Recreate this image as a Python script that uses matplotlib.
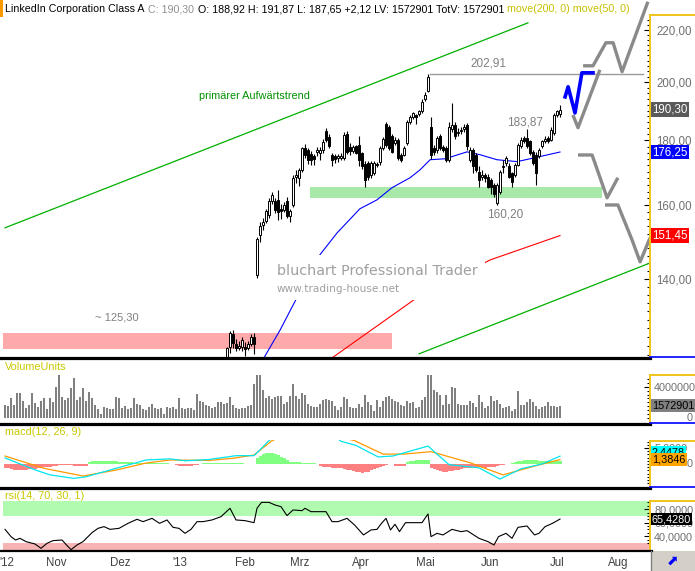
import matplotlib
matplotlib.use('Agg')
import matplotlib.pyplot as plt
from matplotlib.lines import Line2D
from matplotlib.patches import Rectangle
from matplotlib.ticker import FixedLocator, FuncFormatter, NullFormatter
import numpy as np

# ---------------- data ----------------
n_days = 186                      # trading days, Oct 2012 .. 9 Jul 2013
candle_start = 74                 # first candle visible inside the price window

opens = [121.0, 123.7, 126.7, 124.4, 123.6, 123.7, 123.8, 123.5, 124.4, 126.0,
         141.0, 151.6, 154.5, 155.5, 157.2, 161.3, 161.3, 161.6, 159.0, 158.7,
         161.3, 156.9, 160.0, 168.3, 168.2, 170.6, 177.4, 176.9, 175.5, 174.9,
         176.4, 175.9, 176.9, 183.0, 181.0, 175.4, 174.9, 174.3, 174.3, 174.3,
         182.1, 177.8, 176.5, 178.1, 178.6, 175.9, 172.5, 172.8, 169.0, 169.6,
         172.5, 173.0, 177.6, 185.6, 184.5, 181.3, 179.1, 180.2, 175.4, 175.4,
         179.1, 186.2, 187.7, 188.5, 188.9, 189.7, 193.9, 197.0, 184.3, 177.6,
         176.9, 181.3, 177.9, 177.6, 173.8, 183.9, 185.1, 182.4, 183.0, 183.9,
         185.1, 173.8, 176.9, 175.4, 170.1, 168.5, 169.0, 168.5, 167.6, 166.0,
         160.8, 163.9, 171.4, 172.8, 171.7, 169.6, 169.0, 172.2, 178.1, 180.8,
         180.8, 179.7, 176.4, 175.4, 174.9, 178.1, 179.9, 180.8, 180.2, 182.4,
         188.5, 188.92]
highs = [123.8, 127.3, 127.5, 125.5, 125.0, 126.0, 124.8, 125.0, 126.7, 126.8,
         151.1, 155.2, 156.5, 159.0, 162.0, 163.8, 162.2, 164.6, 160.5, 161.0,
         162.3, 159.0, 169.0, 170.5, 171.2, 177.8, 178.9, 177.5, 176.5, 175.5,
         177.8, 178.0, 180.5, 184.2, 182.0, 175.9, 175.6, 175.7, 175.9, 182.9,
         183.2, 179.3, 178.4, 178.6, 181.3, 176.4, 173.3, 173.5, 173.5, 173.3,
         173.0, 178.1, 181.0, 186.2, 185.1, 182.0, 181.0, 180.8, 176.0, 178.1,
         186.8, 188.5, 189.6, 189.0, 190.3, 194.0, 196.5, 202.91, 187.9, 178.6,
         181.5, 182.0, 178.6, 178.1, 186.0, 192.6, 186.0, 184.0, 184.5, 185.5,
         185.8, 177.8, 177.5, 176.0, 171.7, 170.5, 169.6, 169.5, 168.0, 166.5,
         166.5, 170.6, 173.8, 175.0, 172.8, 170.1, 172.8, 179.1, 181.0, 181.5,
         183.87, 180.2, 177.0, 176.4, 177.6, 180.2, 181.3, 181.3, 184.5, 189.1,
         190.3, 191.87]
lows = [120.5, 122.3, 123.6, 122.9, 123.0, 122.8, 121.8, 123.0, 124.0, 122.1,
        140.3, 149.8, 153.0, 155.0, 156.5, 160.5, 157.8, 155.8, 156.0, 158.0,
        156.3, 155.3, 159.5, 166.5, 165.8, 170.0, 174.5, 172.5, 172.0, 172.3,
        175.0, 173.8, 176.0, 179.5, 177.5, 171.7, 172.8, 173.2, 173.8, 173.8,
        175.6, 175.4, 176.0, 175.5, 171.7, 171.0, 165.5, 167.5, 168.0, 169.0,
        171.5, 172.2, 177.0, 178.0, 177.0, 175.9, 178.5, 173.8, 173.0, 174.9,
        178.6, 185.6, 187.0, 185.4, 188.3, 189.1, 193.3, 196.5, 174.0, 175.4,
        176.0, 177.0, 176.4, 173.0, 173.2, 182.9, 180.5, 181.3, 182.0, 182.8,
        177.0, 173.0, 169.6, 170.0, 165.5, 167.5, 167.0, 165.0, 163.4, 162.4,
        160.2, 163.4, 169.6, 171.7, 168.0, 165.5, 168.5, 171.7, 177.5, 179.1,
        177.6, 175.4, 172.0, 166.0, 174.3, 177.6, 179.1, 179.1, 179.7, 181.8,
        187.9, 187.65]
closes = [123.6, 126.9, 124.6, 123.4, 123.9, 125.2, 123.3, 124.4, 125.9, 124.4,
          150.6, 154.2, 155.3, 158.4, 161.4, 162.9, 158.7, 158.2, 158.3, 160.2,
          156.9, 158.3, 168.1, 169.0, 170.6, 177.4, 175.4, 173.8, 173.8, 173.9,
          176.9, 176.9, 179.5, 180.2, 178.2, 173.8, 174.0, 174.9, 175.1, 181.8,
          176.2, 176.5, 177.9, 176.0, 173.8, 171.7, 167.6, 168.5, 172.8, 172.8,
          172.2, 177.6, 180.4, 178.6, 177.6, 176.4, 180.2, 174.3, 173.8, 177.6,
          186.2, 187.9, 189.1, 187.9, 189.7, 193.0, 195.5, 202.1, 175.4, 176.4,
          180.8, 177.6, 177.0, 173.8, 184.5, 185.1, 181.3, 182.9, 183.5, 184.5,
          178.1, 176.9, 171.7, 170.6, 167.6, 169.0, 168.0, 165.5, 165.5, 163.4,
          166.0, 170.1, 171.9, 174.3, 168.5, 167.0, 172.2, 178.6, 180.2, 179.7,
          178.1, 175.9, 172.8, 169.6, 176.9, 179.7, 180.4, 179.7, 183.5, 188.5,
          189.7, 190.30]

# moving averages (vertices)
ma50_day = [80, 86.3, 91.7, 97.3, 105, 110.7, 118.3, 124, 129, 135, 138.3, 141.7,
            146.7, 154, 158.3, 164, 170.7, 178.3, 185]
ma50_val = [115.0, 121.3, 127.6, 135.3, 146.3, 152.2, 159.0, 161.6, 165.2, 168.2,
            170.6, 173.8, 174.1, 176.3, 175.4, 173.8, 173.2, 174.8, 176.25]
ma200_day = [105, 109, 137.3, 161.7, 185]
ma200_val = [119.5, 121.3, 135.3, 144.9, 151.45]

# trend channel
trend_up_day = [0, 174.3]
trend_up_val = [153.6, 222.8]
trend_lo_day = [138, 215]
trend_lo_val = [122.2, 144.1]

# volume in millions
vol_mio = [1.71, 1.50, 2.61, 1.71, 3.25, 3.25, 2.22, 1.32, 1.71, 3.25,
           1.97, 1.45, 2.22, 2.61, 1.20, 2.61, 2.09, 4.02, 5.56, 2.74,
           2.35, 2.61, 3.89, 5.17, 2.35, 2.74, 3.89, 2.22, 3.38, 2.61,
           1.71, 1.20, 0.56, 1.45, 1.32, 1.20, 1.20, 2.74, 2.61, 1.32,
           1.58, 1.20, 1.32, 2.61, 1.84, 1.71, 1.20, 1.07, 1.45, 1.84,
           1.32, 1.20, 1.32, 0.56, 1.45, 1.32, 1.45, 1.20, 2.61, 1.32,
           1.20, 1.32, 1.32, 1.07, 3.12, 2.22, 2.09, 1.71, 1.58, 1.32,
           1.45, 2.09, 2.09, 1.84, 1.97, 2.74, 1.71, 1.32, 1.20, 1.32,
           1.32, 1.58, 1.71, 4.40, 5.56, 5.56, 3.63, 2.61, 2.86, 2.48,
           2.74, 2.86, 2.86, 1.84, 2.09,
           2.86, 4.40, 2.86, 2.48, 3.25, 2.99, 1.84, 1.58, 1.45, 1.45,
           1.84, 2.35, 2.48, 2.35, 2.22, 1.58, 1.07, 1.45, 2.74, 2.48,
           1.45, 1.32, 1.32, 1.84, 1.45, 2.99, 2.09, 1.71, 0.94, 2.35,
           1.45, 2.22, 2.74, 2.86, 2.48, 2.22, 2.09, 1.71, 1.58, 2.22,
           1.97, 2.09, 1.32, 1.45, 2.35, 2.74, 5.56, 5.56, 3.63, 3.38,
           2.99, 1.71, 2.99, 1.84, 4.02, 3.89, 1.84, 1.71, 1.71, 1.71,
           2.22, 1.97, 1.45, 2.99, 2.09, 1.32, 1.58, 2.86, 2.22, 2.35,
           1.84, 1.32, 1.45, 1.58, 0.94, 1.20, 3.50, 1.71, 1.71, 2.09,
           2.48, 2.09, 1.58, 1.20, 1.45, 1.58, 2.09, 1.58, 1.58, 1.45,
           1.572901]

# macd(12,26,9)
macd_day = [0, 5.6, 10.5, 15, 23, 27, 37, 47, 55, 60, 68, 77, 83, 85.5, 88,
            92, 100, 108, 112, 117, 124.4, 129.3, 141, 148, 158, 165, 172, 179, 185]
macd_val = [1.9, -0.2, -2.0, -3.4, -4.5, -4.0, -1.35, 1.25, 1.6, 1.0, 1.4, 2.6, 2.6, 4.9, 7.3,
            10.0, 12.0, 10.0, 7.1, 5.8, 2.2, 2.5, 5.6, -0.2, -1.2, -4.7, -1.5, 0.0, 2.45]
sig_day = [0, 13, 26, 37, 47, 55, 68, 76, 83, 89, 95, 105, 116.5, 126, 133, 142,
           155, 166, 176, 185]
sig_val = [2.5, -1.35, -3.75, -1.9, 0.3, 1.25, 1.1, 1.8, 2.8, 7.3, 9.5, 10.0, 7.3, 3.1,
           3.1, 3.85, 0.4, -3.4, -0.8, 1.3846]
hist = [-1.2, -1.4, -1.6, -1.8, -1.9,
        -1.9, -1.9, -1.8, -1.7, -1.6, -1.5,
        -1.3, -1.2, -1.0, -0.9, -0.8, -0.7,
        -0.5, -0.4, -0.4, -0.3, -0.3, -0.3,
        -0.6, -0.7, -0.7, -0.6, -0.5,
        0.6, 0.9, 1.0, 1.0, 1.0, 1.0, 0.9, 0.9,
        0.8, 0.8, 0.7, 0.7, 0.6, 0.6, 0.5,
        0.4, 0.4, 0.3, 0.3, 0.3, 0.3, 0.2, 0.2, 0.3, 0.3, 0.3, 0.2, 0.1, 0.05,
        -0.3, -0.5, -0.6, -0.6, -0.5, -0.5, -0.4, -0.2,
        0.05,
        0.3, 0.3, 0.4, 0.4, 0.4, 0.4, 0.4, 0.4, 0.4, 0.4, 0.4, 0.3, 0.3, 0.2,
        0.02, 0.02, 0.02, 0.02,
        2.0, 2.4, 3.0, 3.3, 3.4, 3.4, 3.2, 2.8, 2.3, 1.8, 1.2,
        0.6, 0.5, 0.5, 0.5, 0.4, 0.4, 0.4, 0.4, 0.3,
        0.0,
        -0.6, -0.8, -0.9, -1.0, -1.1, -1.2, -1.3, -1.4, -1.6, -1.8, -2.0, -2.2,
        -2.4, -2.6, -2.7, -2.6, -2.4, -2.0, -1.6, -1.2, -0.9, -0.6,
        -0.3,
        0.0, 0.0,
        -0.6, -0.7, -0.7, -0.6,
        0.7, 0.9, 1.0, 1.1, 1.1, 1.2, 1.3, 1.4,
        -1.2, -1.6, -2.0, -2.3, -2.4, -2.4, -2.3, -2.2, -2.0, -1.8, -1.6,
        -1.4, -1.2, -1.1, -1.0, -1.0, -1.0, -1.1, -1.1, -1.0, -0.9, -0.8, -0.6, -0.4, -0.2,
        0.0, 0.1, 0.2,
        0.5, 0.8, 1.0, 1.2, 1.3, 1.3, 1.2, 1.1, 1.0, 0.9, 0.8, 0.8, 0.9, 1.0, 1.0, 1.06]

# rsi(14)
rsi_day = [0, 2, 3.5, 5, 7, 10, 12, 14, 16, 19, 20.5, 22, 24, 26, 29, 31, 33, 35, 38,
           41, 44, 46, 49, 51.5, 54, 56, 58, 60, 62, 64, 66, 69, 72, 75, 77, 80, 83,
           84, 85.5, 88, 90, 92, 94, 96, 99, 100, 102, 105, 107, 109, 111, 114, 116.5,
           119.5, 122, 124, 125.5, 127, 128.5, 130, 131.5, 133.5, 136, 139, 141, 142,
           144, 146, 149, 152, 154, 158, 161, 163, 164.5, 167, 169, 171, 174, 176.5,
           178, 180, 182.5, 185]
rsi_val = [50.2, 39.4, 34.4, 36.9, 32.0, 28.5, 22.1, 29.5, 33.5, 34.4, 27.0, 20.0, 27.0,
           32.0, 45.3, 51.7, 54.2, 50.2, 51.7, 59.1, 65.1, 61.6, 66.5, 59.1, 64.1, 53.2,
           51.7, 44.3, 50.2, 61.6, 61.6, 64.1, 69.0, 81.4, 64.1, 63.1, 60.1, 81.4, 90.2,
           90.2, 86.3, 83.8, 70.5, 78.9, 77.9, 81.4, 76.4, 76.4, 76.4, 61.6, 61.6, 66.5,
           56.7, 41.9, 49.3, 50.2, 59.1, 66.5, 49.3, 57.7, 46.8, 60.1, 60.1, 60.1, 73.0,
           39.4, 44.3, 41.9, 50.2, 46.8, 48.3, 36.9, 32.0, 27.0, 39.4, 44.3, 36.9, 53.2,
           55.2, 41.9, 44.3, 54.2, 59.1, 65.43]

month_labels = ["'12", 'Nov', 'Dez', "'13", 'Feb', 'Mrz', 'Apr', 'Mai', 'Jun', 'Jul', 'Aug']
month_day = [0.7, 17, 38.3, 58.3, 80, 98.3, 118.7, 140, 161.7, 184, 204.3]

# hand drawn scenario lines (day, price)
blue_path = ([186.7, 187.7, 190.0, 192.3, 196.0], [194.8, 198.4, 189.2, 203.5, 203.5])
gray_paths = [
    ([192.7, 196.0, 200.3, 202.7, 205.7, 214.3], [206.1, 206.1, 214.9, 214.9, 203.9, 231.5]),
    ([189.3, 191.0, 198.3], [188.5, 184.2, 204.6]),
    ([191.0, 195.7, 200.7, 204.3], [175.3, 175.3, 162.2, 168.2]),
    ([200.0, 204.3, 209.0, 211.7, 215.0], [160.1, 160.1, 150.3, 144.4, 150.8]),
]

# ---------------- figure ----------------
W, H = 695, 571
fig = plt.figure(figsize=(W / 100, H / 100), dpi=100)
fig.patch.set_facecolor('white')
FONT = 'Liberation Sans'
YELLOW = '#f0c419'
LBL = '#707070'
RIGHT_EDGE = 1 + (693 - 650) / 647   # axes fraction of the right picture edge


def fx(x):
    return x / W


def fy(y):
    return 1 - y / H


def panel(y0, y1, x0=3, x1=650):
    ax = fig.add_axes([fx(x0), fy(y1), (x1 - x0) / W, (y1 - y0) / H])
    ax.set_xlim(-0.67, 215)
    for s in ax.spines.values():
        s.set_visible(False)
    ax.yaxis.tick_right()
    ax.tick_params(axis='y', which='both', direction='in', color='black',
                   labelcolor=LBL, labelsize=8.3, pad=4.5)
    ax.tick_params(axis='y', which='major', length=4, width=0.8)
    ax.tick_params(axis='y', which='minor', length=2.5, width=0.8)
    ax.tick_params(axis='x', bottom=False, labelbottom=False)
    return ax


def label_font(a):
    for lab in a.get_yticklabels() + a.get_xticklabels():
        lab.set_family(FONT)


def zero_label(a):
    a.text(RIGHT_EDGE, 0, '0', transform=a.get_yaxis_transform(), ha='right',
           va='center', fontsize=7.8, family=FONT, color=LBL, clip_on=False)


days = np.arange(n_days)

# ---- price panel ----
ax = panel(15, 357)
ax.set_yscale('log')
ax.set_ylim(121.5, 226.0)
ax.yaxis.set_major_locator(FixedLocator([140, 160, 180, 200, 220]))
ax.yaxis.set_minor_locator(FixedLocator(list(range(122, 226, 2))))
ax.yaxis.set_major_formatter(FuncFormatter(lambda v, p: f'{v:.2f}'.replace('.', ',')))
ax.yaxis.set_minor_formatter(NullFormatter())
label_font(ax)

ax.add_patch(Rectangle((-0.67, 123.3), 129.7, 3.7, fc='#ffaaaa', ec='none', zorder=1))
ax.add_patch(Rectangle((101.7, 162.2), 97.3, 3.3, fc='#a8e8a8', ec='none', zorder=1))
ax.plot(trend_up_day, trend_up_val, color='#00b000', lw=0.9, zorder=2)
ax.plot(trend_lo_day, trend_lo_val, color='#00b000', lw=0.9, zorder=2)
ax.plot(ma50_day, ma50_val, color='#0000ff', lw=0.8, zorder=2)
ax.plot(ma200_day, ma200_val, color='#ff0000', lw=0.8, zorder=2)
ax.plot([141.7, 212.7], [202.91, 202.91], color='#9a9a9a', lw=1.0, zorder=2)

cd = np.arange(candle_start, candle_start + len(closes))
o = np.array(opens)
c = np.array(closes)
ax.vlines(cd, lows, highs, color='black', lw=0.8, zorder=3)
body_lo = np.minimum(o, c)
body_h = np.maximum(np.abs(c - o), 0.25)
face = ['white' if cc >= oo else 'black' for oo, cc in zip(o, c)]
ax.bar(cd, body_h, bottom=body_lo, width=0.85, color=face, edgecolor='black',
       linewidth=0.7, zorder=4)

# watermark on a white plate
ax.add_patch(Rectangle((fx(273), fy(300)), fx(485) - fx(273), fy(255) - fy(300),
                       transform=fig.transFigure, fc='white', ec='none', zorder=5))
fig.text(fx(277), fy(271), 'bluchart Professional Trader', fontsize=10.4,
         family='DejaVu Sans', color='#a0a0a0', va='center', zorder=6)
fig.text(fx(277), fy(289), 'www.trading-house.net', fontsize=7.6,
         family='DejaVu Sans', color='#a0a0a0', va='center', zorder=6)

for xs, ys in gray_paths:
    ax.plot(xs, ys, color='#8a8a8a', lw=2.4, zorder=6, clip_on=False,
            solid_capstyle='butt')
ax.plot(*blue_path, color='#0000ff', lw=2.6, zorder=7, clip_on=False)

ax.text(101.7, 195.0, 'primärer Aufwärtstrend', color='#009000', fontsize=7.8,
        family=FONT, ha='right', va='center')
ax.text(37.3, 130.5, '~ 125,30', color='#808080', fontsize=8, family=FONT,
        ha='center', va='center')
ax.text(161.0, 206.8, '202,91', color='#808080', fontsize=8.5, family=FONT,
        ha='center', va='center')
ax.text(173.3, 186.0, '183,87', color='#808080', fontsize=8.5, family=FONT,
        ha='center', va='center')
ax.text(166.7, 157.3, '160,20', color='#808080', fontsize=8.5, family=FONT,
        ha='center', va='center')


def value_box(a, val, txt, fc, tc='white', size=8.3):
    a.text(1.003, val, txt, transform=a.get_yaxis_transform(), ha='left', va='center',
           fontsize=size, family=FONT, color=tc, zorder=10, clip_on=False,
           bbox=dict(boxstyle='square,pad=0.12', fc=fc, ec='none'))


value_box(ax, closes[-1], '190,30', '#5a5a5a')
value_box(ax, ma50_val[-1], '176,25', '#0000ff')
value_box(ax, ma200_val[-1], '151,45', '#ff0000')

# ---- volume panel ----
av = panel(375, 423)
av.set_ylim(-0.64, 5.51)
av.bar(days, vol_mio, width=0.35, color='#808080', linewidth=0)
av.yaxis.set_major_locator(FixedLocator([4]))
av.yaxis.set_minor_locator(FixedLocator(list(np.arange(0, 5.5, 0.5))))
av.yaxis.set_major_formatter(FuncFormatter(lambda v, p: f'{int(v * 1e6)}'))
av.tick_params(axis='y', labelsize=7.8, pad=3)
label_font(av)
zero_label(av)
value_box(av, vol_mio[-1], '1572901', '#808080', tc='black', size=7.8)

# ---- macd panel ----
am = panel(440, 487)
am.set_ylim(-7.19, 7.5)
hcol = ['#80ff80' if h >= 0 else '#ff8080' for h in hist]
am.bar(days, hist, width=1.0, color=hcol, linewidth=0, zorder=1)
am.plot(sig_day, sig_val, color='#ff9900', lw=0.9, zorder=2)
am.plot(macd_day, macd_val, color='#00e5ee', lw=0.9, zorder=3)
am.yaxis.set_major_locator(FixedLocator([5]))
am.yaxis.set_minor_locator(FixedLocator([-6, -5, -4, -3, -2, -1, 0, 1, 2, 3, 4, 6, 7]))
am.yaxis.set_major_formatter(FuncFormatter(lambda v, p: f'{v:.4f}'.replace('.', ',')))
am.tick_params(axis='y', labelsize=7.8, pad=3)
label_font(am)
value_box(am, 3.6, '2,4478', '#00ffff', tc='black', size=7.8)
value_box(am, sig_val[-1], '1,3846', '#ffa500', tc='black', size=7.8)
zero_label(am)

# ---- rsi panel ----
ar = panel(501, 550)
ar.set_ylim(19.6, 92.2)
ar.axhspan(70, 100, color='#b0fbb0', lw=0, zorder=0)
ar.axhspan(0, 30, color='#f7b4b4', lw=0, zorder=0)
ar.plot(rsi_day, rsi_val, color='black', lw=0.8, zorder=2)
ar.yaxis.set_major_locator(FixedLocator([40, 60, 80]))
ar.yaxis.set_minor_locator(FixedLocator([30, 35, 45, 50, 55, 65, 70, 75, 85, 90]))
ar.yaxis.set_major_formatter(FuncFormatter(lambda v, p: f'{v:.4f}'.replace('.', ',')))
ar.tick_params(axis='y', labelsize=7.8, pad=3)
ar.set_xticks(month_day)
ar.set_xticklabels(month_labels)
ar.tick_params(axis='x', bottom=True, labelbottom=True, length=0, pad=5,
               labelsize=8.3, labelcolor='#404040')
label_font(ar)
value_box(ar, rsi_val[-1], '65,4280', 'black', size=7.8)

# ---- frame lines ----
for ytop, ybot in [(15, 357), (375, 423), (441, 487), (501, 550)]:
    fig.add_artist(Line2D([fx(650), fx(650)], [fy(ytop), fy(ybot)], color=YELLOW, lw=1.4))
    fig.add_artist(Line2D([fx(650), fx(695)], [fy(ytop), fy(ytop)], color=YELLOW, lw=1.4))
for ysep in [358, 424, 488]:
    fig.add_artist(Line2D([0, fx(650)], [fy(ysep), fy(ysep)], color='black', lw=2.3))
    fig.add_artist(Line2D([fx(650), 1], [fy(ysep - 1), fy(ysep - 1)], color='#0000ff', lw=1.2))
fig.add_artist(Line2D([0, fx(652)], [fy(550.5), fy(550.5)], color='black', lw=1.6))
fig.add_artist(Rectangle((fx(651), 0), 1 - fx(651), fy(551), fc='#d4d0c8', ec='none'))
fig.add_artist(Line2D([fx(651), fx(651)], [0, fy(551)], color='#808080', lw=1))
fig.text(fx(673), fy(561), '\u2b08', color='#0000ff', fontsize=10, family='DejaVu Sans',
         ha='center', va='center')

# panel titles
for ty, txt in [(367, 'VolumeUnits'), (432, 'macd(12, 26, 9)'), (496, 'rsi(14, 70, 30, 1)')]:
    fig.text(fx(5), fy(ty), txt, color='#c8c800', fontsize=7.8, family=FONT, va='center')

# header line
fig.add_artist(Rectangle((0, fy(17)), fx(3), fy(0) - fy(17), fc='#ff9900', ec='none'))
pieces = [('LinkedIn Corporation Class A', 'black'), ('C: 190,30', '#909090'),
          ('O: 188,92 H: 191,87 L: 187,65 +2,12 LV: 1572901 TotV: 1572901', 'black'),
          ('move(200, 0) move(50, 0)', '#c8c000')]
renderer = fig.canvas.get_renderer()
xpos = 5
for txt, col in pieces:
    t = fig.text(fx(xpos), fy(9), txt, color=col, fontsize=7.7, family=FONT, va='center')
    xpos += t.get_window_extent(renderer).width + 3.5

fig.savefig('out.png', dpi=100)
